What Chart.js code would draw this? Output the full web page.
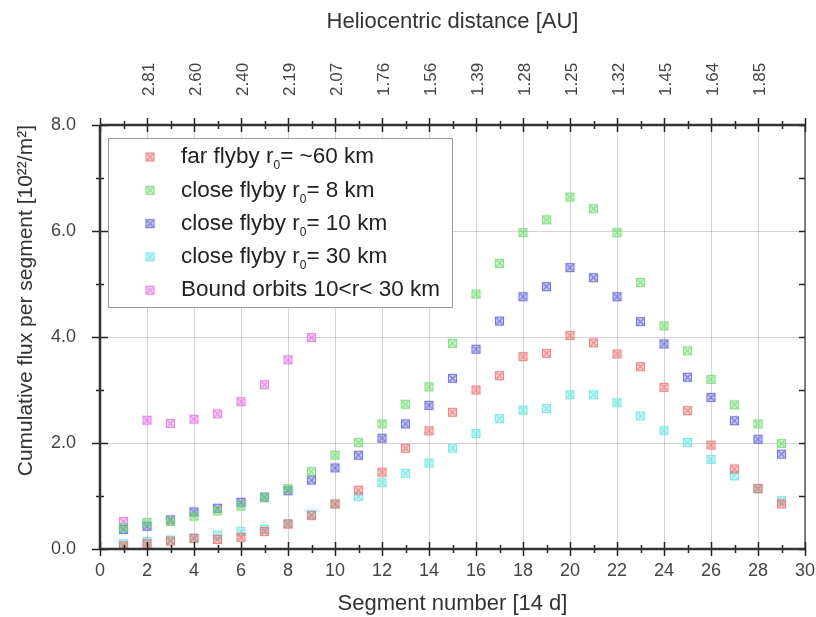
<!DOCTYPE html>
<html>
<head>
<meta charset="utf-8">
<script src="https://cdn.jsdelivr.net/npm/chart.js@4/dist/chart.umd.min.js"></script>
<style>
  html, body { margin: 0; padding: 0; background: #fff; }
  #wrap { width: 816px; height: 617px; }
</style>
</head>
<body>
<div id="wrap"><canvas id="fluxChart" width="816" height="617"></canvas></div>
<script>
// segment numbers (14 d each)
const segments = [1, 2, 3, 4, 5, 6, 7, 8, 9, 10, 11, 12, 13, 14, 15, 16, 17, 18, 19, 20, 21, 22, 23, 24, 25, 26, 27, 28, 29]
const boundSegments = [1, 2, 3, 4, 5, 6, 7, 8, 9]

// cumulative flux per segment [10^22/m^2]
const farFlyby60 = [0.06, 0.10, 0.15, 0.20, 0.18, 0.22, 0.33, 0.47, 0.63, 0.85, 1.11, 1.45, 1.90, 2.23, 2.58, 3.00, 3.27, 3.63, 3.69, 4.03, 3.89, 3.68, 3.44, 3.05, 2.61, 1.96, 1.51, 1.14, 0.85]
const closeFlyby8 = [0.40, 0.50, 0.52, 0.62, 0.72, 0.81, 0.97, 1.14, 1.46, 1.77, 2.01, 2.36, 2.73, 3.06, 3.88, 4.81, 5.39, 5.97, 6.21, 6.64, 6.42, 5.97, 5.03, 4.21, 3.74, 3.20, 2.72, 2.36, 1.99]
const closeFlyby10 = [0.37, 0.43, 0.55, 0.70, 0.77, 0.88, 0.98, 1.10, 1.30, 1.53, 1.77, 2.09, 2.36, 2.71, 3.22, 3.77, 4.30, 4.76, 4.95, 5.31, 5.12, 4.76, 4.29, 3.87, 3.24, 2.86, 2.42, 2.07, 1.79]
const closeFlyby30 = [0.10, 0.14, 0.17, 0.21, 0.26, 0.33, 0.37, 0.48, 0.65, 0.85, 0.99, 1.25, 1.43, 1.62, 1.90, 2.18, 2.46, 2.62, 2.65, 2.91, 2.91, 2.76, 2.51, 2.23, 2.01, 1.69, 1.38, 1.14, 0.91]
const boundOrbits = [0.52, 2.43, 2.37, 2.45, 2.55, 2.78, 3.10, 3.57, 3.99]

// top axis: heliocentric distance at even segments
const auTicks = [2, 4, 6, 8, 10, 12, 14, 16, 18, 20, 22, 24, 26, 28]
const auLabels = ['2.81', '2.60', '2.40', '2.19', '2.07', '1.76', '1.56', '1.39', '1.28', '1.25', '1.32', '1.45', '1.64', '1.85']

const FONT = '"Liberation Sans", Arial, sans-serif'

// square with an X inside, like the original markers
function marker(rgb) {
    const c = document.createElement('canvas')
    c.width = 11
    c.height = 11
    const g = c.getContext('2d')
    g.fillStyle = 'rgba(' + rgb + ',0.28)'
    g.fillRect(1, 1, 9, 9)
    g.strokeStyle = 'rgba(' + rgb + ',0.7)'
    g.lineWidth = 1.2
    g.strokeRect(1.5, 1.5, 8, 8)
    g.beginPath()
    g.moveTo(2.5, 2.5); g.lineTo(8.5, 8.5)
    g.moveTo(8.5, 2.5); g.lineTo(2.5, 8.5)
    g.stroke()
    return c
}

const series = [
    { label: 'far flyby r\u2080= ~60 km', xs: segments, ys: farFlyby60, rgb: '235,105,105' },
    { label: 'close flyby r\u2080= 8 km', xs: segments, ys: closeFlyby8, rgb: '105,215,105' },
    { label: 'close flyby r\u2080= 10 km', xs: segments, ys: closeFlyby10, rgb: '85,85,210' },
    { label: 'close flyby r\u2080= 30 km', xs: segments, ys: closeFlyby30, rgb: '95,228,222' },
    { label: 'Bound orbits 10<r< 30 km', xs: boundSegments, ys: boundOrbits, rgb: '225,105,225' }
]

const datasets = series.map(s => ({
    label: s.label,
    data: s.xs.map((x, i) => ({ x: x, y: s.ys[i] })),
    pointStyle: marker(s.rgb),
    pointRadius: 5,
    pointHoverRadius: 5,
    showLine: false
}))

// axis lines + ticks crossing the frame (gnuplot-like)
const frame = {
    id: 'frame',
    afterDatasetsDraw(chart) {
        const { ctx, chartArea: a } = chart
        const xs = chart.scales.x
        const ys = chart.scales.y
        ctx.save()
        ctx.strokeStyle = '#222'
        ctx.lineWidth = 1.5
        for (let v = 0; v <= 30; v++) {
            const px = Math.round(xs.getPixelForValue(v)) + 0.5
            const len = v % 2 === 0 ? 7 : 4
            ctx.beginPath()
            ctx.moveTo(px, a.bottom - len); ctx.lineTo(px, a.bottom + len)
            ctx.moveTo(px, a.top - len); ctx.lineTo(px, a.top + len)
            ctx.stroke()
        }
        for (let v = 0; v <= 8; v++) {
            const py = Math.round(ys.getPixelForValue(v)) + 0.5
            const len = v % 2 === 0 ? 8 : 4
            ctx.beginPath()
            ctx.moveTo(a.left - len, py); ctx.lineTo(a.left + len, py)
            ctx.moveTo(a.right - 6, py); ctx.lineTo(a.right, py)
            ctx.stroke()
        }
        ctx.lineWidth = 2.5
        ctx.strokeStyle = '#333'
        ctx.beginPath()
        ctx.moveTo(a.left, a.top); ctx.lineTo(a.left, a.bottom)
        ctx.moveTo(a.left, a.top); ctx.lineTo(a.right, a.top)
        ctx.moveTo(a.left, a.bottom); ctx.lineTo(a.right, a.bottom)
        ctx.stroke()
        ctx.lineWidth = 1.2
        ctx.beginPath()
        ctx.moveTo(a.right, a.top); ctx.lineTo(a.right, a.bottom)
        ctx.stroke()
        ctx.restore()
    }
}

// legend box inside the plot, upper left; r₀ drawn with a real subscript
const insideLegend = {
    id: 'insideLegend',
    afterDatasetsDraw(chart) {
        const { ctx } = chart
        const bx = 108, by = 138, bw = 344, bh = 169
        ctx.save()
        ctx.fillStyle = '#fff'
        ctx.fillRect(bx, by, bw, bh)
        ctx.strokeStyle = '#999'
        ctx.lineWidth = 1
        ctx.strokeRect(bx + 0.5, by + 0.5, bw, bh)
        ctx.fillStyle = '#222'
        ctx.textBaseline = 'middle'
        chart.data.datasets.forEach((ds, i) => {
            const y = 157 + i * 33.3
            const img = ds.pointStyle
            ctx.drawImage(img, 150 - img.width / 2, y - img.height / 2)
            const parts = ds.label.split('\u2080')
            let x = 181
            parts.forEach((p, k) => {
                ctx.font = '22.5px ' + FONT
                ctx.fillText(p, x, y)
                x += ctx.measureText(p).width
                if (k < parts.length - 1) {
                    ctx.font = '12px ' + FONT
                    ctx.fillText('0', x, y + 9)
                    x += ctx.measureText('0').width
                }
            })
        })
        ctx.restore()
    }
}

const noSidePad = s => { s.paddingLeft = 0; s.paddingRight = 0 }

const ctx = document.getElementById('fluxChart').getContext('2d')
const fluxChart = new Chart(ctx, {
    type: 'scatter',
    data: { datasets: datasets },
    options: {
        responsive: false,
        animation: false,
        layout: { padding: { left: 0, right: 11, top: 0, bottom: 0 } },
        plugins: {
            legend: { display: false },
            tooltip: { enabled: false }
        },
        scales: {
            x: {
                type: 'linear',
                position: 'bottom',
                min: 0,
                max: 30,
                afterFit: s => { s.height = 68; noSidePad(s) },
                border: { display: false },
                grid: { color: 'rgba(0,0,0,0.17)', drawTicks: false, lineWidth: 1 },
                ticks: { stepSize: 2, padding: 11, color: '#444', font: { family: FONT, size: 18 } },
                title: { display: true, text: 'Segment number [14 d]', color: '#333', font: { family: FONT, size: 22 }, padding: { top: 0, bottom: 0 } }
            },
            x2: {
                type: 'linear',
                position: 'top',
                min: 0,
                max: 30,
                afterFit: s => { s.height = 125; noSidePad(s) },
                border: { display: false },
                grid: { display: false, drawTicks: false },
                ticks: {
                    stepSize: 2,
                    minRotation: 90,
                    maxRotation: 90,
                    padding: 29,
                    labelOffset: 23,
                    color: '#444',
                    font: { family: FONT, size: 17 },
                    callback: v => { const i = auTicks.indexOf(v); return i >= 0 ? auLabels[i] : '' }
                },
                title: { display: true, text: 'Heliocentric distance [AU]', color: '#333', font: { family: FONT, size: 22 }, padding: { top: 9, bottom: 0 } }
            },
            y: {
                type: 'linear',
                min: 0,
                max: 8,
                afterFit: s => { s.width = 100 },
                border: { display: false },
                grid: { color: 'rgba(0,0,0,0.17)', drawTicks: false, lineWidth: 1 },
                ticks: { stepSize: 2, padding: 24, color: '#444', font: { family: FONT, size: 18 }, callback: v => v.toFixed(1) },
                title: { display: true, align: 'end', text: 'Cumulative flux per segment [10\u00b2\u00b2/m\u00b2]', color: '#333', font: { family: FONT, size: 21 }, padding: { top: 14, bottom: 0 } }
            }
        }
    },
    plugins: [frame, insideLegend]
})
</script>
</body>
</html>
